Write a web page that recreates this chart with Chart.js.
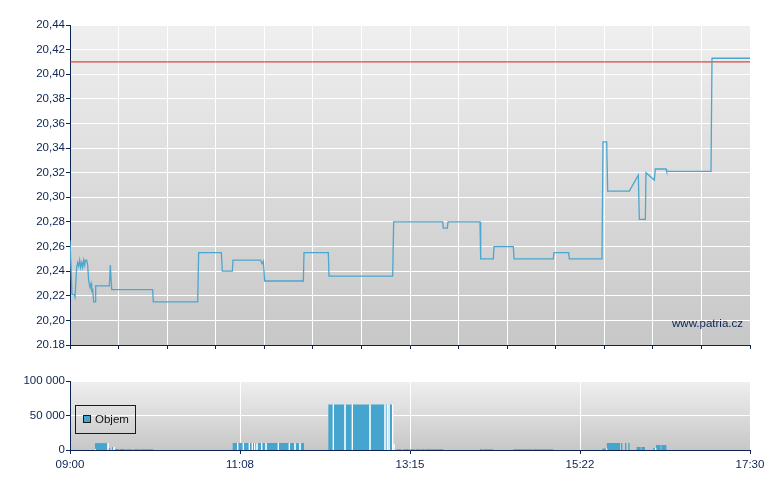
<!DOCTYPE html>
<html>
<head>
<meta charset="utf-8">
<script src="https://cdn.jsdelivr.net/npm/chart.js@4.4.0/dist/chart.umd.min.js"></script>
<style>
  html, body { margin: 0; padding: 0; background: #fff; }
  #wrap { position: relative; width: 780px; height: 490px; }
  canvas { position: absolute; left: 0; }
  #priceChart { top: 0; }
  #volChart { top: 360px; }
</style>
</head>
<body>
<div id="wrap">
  <canvas id="priceChart" width="780" height="360"></canvas>
  <canvas id="volChart" width="780" height="130"></canvas>
</div>
<script>
// minutes after 09:00 and traded price
const priceTimes = [0, 1.5, 3.25, 3.75, 5, 5.75, 6.5, 7.25, 8, 8.75,
  9.5, 10.25, 11, 11.5, 12.5, 13.25, 14, 15, 15.75, 16.25,
  17, 17.75, 19, 19.25, 29.5, 30.25, 31.25, 62, 62.5, 95.75,
  96.5, 113.5, 114.25, 121.75, 122.25, 143, 144, 145, 146, 175,
  175.5, 193.75, 194.25, 242, 242.75, 279.5, 280, 283, 283.5, 307.5,
  308, 317.5, 318, 332.5, 333, 362.5, 363, 374, 374.5, 399,
  399.75, 402.5, 403.25, 419.5, 426.25, 427, 431.5, 432, 438.25, 439,
  447, 447.5, 480.75, 481.5, 510];
const priceValues = [20.265, 20.221, 20.221, 20.219, 20.243, 20.247, 20.244, 20.249, 20.243, 20.247,
  20.243, 20.249, 20.245, 20.249, 20.249, 20.245, 20.232, 20.227, 20.23, 20.224,
  20.225, 20.215, 20.215, 20.228, 20.228, 20.245, 20.225, 20.225, 20.215, 20.215,
  20.255, 20.255, 20.24, 20.24, 20.249, 20.249, 20.246, 20.248, 20.232, 20.232,
  20.255, 20.255, 20.236, 20.236, 20.28, 20.28, 20.275, 20.275, 20.28, 20.28,
  20.25, 20.25, 20.26, 20.26, 20.25, 20.25, 20.255, 20.255, 20.25, 20.25,
  20.345, 20.345, 20.305, 20.305, 20.318, 20.282, 20.282, 20.32, 20.314, 20.323,
  20.323, 20.321, 20.321, 20.413, 20.413];
const refPrice = 20.41;

const priceTicks = [20.18, 20.20, 20.22, 20.24, 20.26, 20.28, 20.30, 20.32, 20.34, 20.36, 20.38, 20.40, 20.42, 20.44];
const priceTickLabels = ['20.18', '20,20', '20,22', '20,24', '20,26', '20,28', '20,30', '20,32', '20,34', '20,36', '20,38', '20,40', '20,42', '20,44'];

// volume blocks (start minute, end minute, volume)
const volStart = [17.5, 18.75, 28.5, 31.5, 33, 37.5, 41.5, 47.5, 52.5,
  122, 125.75, 130, 134.5, 136.75, 138.5, 140.25, 143.75, 147, 156.25, 164.5, 168.75, 172.5,
  193.75, 197.5, 206.25, 211.75, 225, 236.25, 238, 239.25, 242, 243,
  245, 250, 254.5, 259.5, 263.5, 266.5, 307.5, 310, 332.5, 347.5,
  399.25, 402.5, 413.25, 416.25, 418.75, 425, 428.5, 437.5, 439.25, 443.5];
const volEnd = [18.75, 28.5, 30, 33, 37, 41, 46.5, 52, 62.5,
  125.75, 130, 134.5, 136.75, 138.5, 140.25, 143.75, 147, 156.25, 164.5, 168.75, 172.5, 175.5,
  197.5, 206.25, 211.75, 225, 236.25, 238, 239.25, 242, 243, 244,
  248.5, 254, 259, 263, 266, 280, 309.5, 317.5, 347, 362.5,
  402.5, 412.5, 414.25, 417.25, 419.75, 428, 431.25, 439.25, 443, 447.5];
const volValue = [1500, 10000, 3000, 4500, 1500, 1500, 1000, 1200, 1200,
  10000, 10000, 10000, 10000, 10000, 10000, 10000, 10000, 10000, 10000, 10000, 10000, 10000,
  66000, 66000, 66000, 66000, 66000, 66000, 66000, 66000, 9000, 2000,
  1200, 1200, 1200, 1200, 1200, 1200, 1200, 1200, 1200, 1200,
  2000, 10000, 10000, 10000, 10000, 4300, 4300, 3000, 7200, 7200];
const volLabel = 'Objem';

const timeTickMinutes = [0, 127.5, 255, 382.5, 510];
const timeTickLabels = ['09:00', '11:08', '13:15', '15:22', '17:30'];
const priceGridCount = 14;
const volTicks = [0, 50000, 100000];
const volTickLabels = ['0', '50 000', '100 000'];

const navy = '#0b2454';
const fontFamily = '"Liberation Sans", Arial, sans-serif';
const font = { family: fontFamily, size: 11.5 };

const pricePoints = priceTimes.map((t, i) => ({ x: t, y: priceValues[i] }));
const refPoints = [{ x: 0, y: refPrice }, { x: 510, y: refPrice }];

const volPoints = [];
volStart.forEach((s, i) => {
  volPoints.push({ x: s, y: 0 }, { x: s, y: volValue[i] }, { x: volEnd[i], y: volValue[i] }, { x: volEnd[i], y: 0 });
});

const areaBg = {
  id: 'areaBg',
  beforeDraw(chart) {
    const a = chart.chartArea, c = chart.ctx;
    const g = c.createLinearGradient(0, a.top, 0, a.bottom);
    g.addColorStop(0, '#efefef');
    g.addColorStop(1, '#c7c7c7');
    c.save();
    c.fillStyle = g;
    c.fillRect(a.left, a.top, a.right - a.left, a.bottom - a.top);
    c.restore();
  }
};

const watermark = {
  id: 'watermark',
  afterDraw(chart) {
    const c = chart.ctx, a = chart.chartArea;
    c.save();
    c.font = '11.5px ' + fontFamily;
    c.fillStyle = navy;
    c.textAlign = 'right';
    c.textBaseline = 'alphabetic';
    c.fillText('www.patria.cz', a.right - 7, a.bottom - 18);
    c.restore();
  }
};

const boxLegend = {
  id: 'boxLegend',
  afterDraw(chart) {
    const c = chart.ctx, a = chart.chartArea;
    const x = a.left + 5, y = a.top + 24;
    c.save();
    c.strokeStyle = '#1a1a1a';
    c.lineWidth = 1;
    c.strokeRect(x + 0.5, y + 0.5, 60, 28);
    c.fillStyle = '#46a5cf';
    c.fillRect(x + 8.5, y + 10.5, 7, 7);
    c.strokeRect(x + 8.5, y + 10.5, 7, 7);
    c.font = '11.5px ' + fontFamily;
    c.fillStyle = '#111';
    c.textBaseline = 'middle';
    c.fillText(chart.data.datasets[0].label, x + 20, y + 15);
    c.restore();
  }
};

new Chart(document.getElementById('priceChart'), {
  type: 'line',
  data: {
    datasets: [
      { label: 'Cena', data: pricePoints, borderColor: '#4ba6d0', borderWidth: 1.3, pointRadius: 0, tension: 0, fill: false },
      { label: 'Ref', data: refPoints, borderColor: '#d42020', borderWidth: 1, pointRadius: 0, fill: false }
    ]
  },
  options: {
    responsive: false,
    animation: false,
    events: [],
    layout: { padding: { left: 0, right: 30, top: 25, bottom: 10 } },
    plugins: { legend: { display: false }, tooltip: { enabled: false } },
    scales: {
      x: {
        type: 'linear', min: 0, max: 510,
        afterBuildTicks: s => { s.ticks = Array.from({ length: priceGridCount + 1 }, (_, i) => ({ value: i * 510 / priceGridCount })); },
        afterFit: s => { s.height = 5; },
        ticks: { display: false },
        grid: { color: '#ffffff', tickColor: navy, tickLength: 4, lineWidth: 1 },
        border: { color: navy, width: 1 }
      },
      y: {
        min: 20.18, max: 20.44,
        afterBuildTicks: s => { s.ticks = priceTicks.map(v => ({ value: v })); },
        afterFit: s => { s.width = 70; },
        ticks: { color: navy, font: font, padding: 1, callback: (v, i) => priceTickLabels[i] },
        grid: { color: '#ffffff', tickColor: navy, tickLength: 4, lineWidth: 1 },
        border: { color: navy, width: 1 }
      }
    }
  },
  plugins: [areaBg, watermark]
});

new Chart(document.getElementById('volChart'), {
  type: 'line',
  data: {
    datasets: [{
      label: volLabel, data: volPoints, fill: 'origin', backgroundColor: '#46a5cf',
      borderWidth: 1, pointRadius: 0, tension: 0,
      segment: {
        borderColor: c => {
          const i = c.p1DataIndex, d = volPoints;
          const sep = d[i - 1].x === d[i].x && d[i].y === 0 && d[i + 1] && d[i + 1].x === d[i].x;
          return sep ? 'rgba(255,255,255,0.8)' : 'rgba(0,0,0,0)';
        }
      }
    }]
  },
  options: {
    responsive: false,
    animation: false,
    events: [],
    layout: { padding: { left: 0, right: 30, top: 21, bottom: 20 } },
    plugins: { legend: { display: false }, tooltip: { enabled: false } },
    scales: {
      x: {
        type: 'linear', min: 0, max: 510,
        afterBuildTicks: s => { s.ticks = timeTickMinutes.map(v => ({ value: v })); },
        afterFit: s => { s.height = 20; },
        ticks: { color: navy, font: font, padding: 4, maxRotation: 0, callback: (v, i) => timeTickLabels[i] },
        grid: { color: '#ffffff', tickColor: navy, tickLength: 4, lineWidth: 1 },
        border: { color: navy, width: 1 }
      },
      y: {
        min: 0, max: 100000,
        afterBuildTicks: s => { s.ticks = volTicks.map(v => ({ value: v })); },
        afterFit: s => { s.width = 70; },
        ticks: { color: navy, font: font, padding: 1, callback: (v, i) => volTickLabels[i] },
        grid: { color: '#ffffff', tickColor: navy, tickLength: 4, lineWidth: 1 },
        border: { color: navy, width: 1 }
      }
    }
  },
  plugins: [areaBg, boxLegend]
});
</script>
</body>
</html>
